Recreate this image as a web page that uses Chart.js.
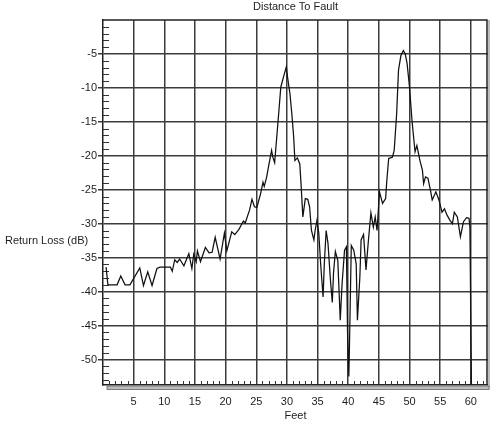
<!DOCTYPE html>
<html><head><meta charset="utf-8">
<script src="https://cdn.jsdelivr.net/npm/chart.js@4/dist/chart.umd.min.js"></script>
<style>html,body{margin:0;padding:0;background:#fff}#wrap{width:490px;height:423px}</style>
</head><body><div id="wrap"><canvas id="c" width="490" height="423"></canvas></div>
<script>
const chartTitle = 'Distance To Fault';
const xTitle = 'Feet';
const yTitle = 'Return Loss (dB)';
const xTickValues = [5,10,15,20,25,30,35,40,45,50,55,60];
const yTickValues = [-50,-45,-40,-35,-30,-25,-20,-15,-10,-5];
const feet = [0.5,0.8,2.3,2.9,3.6,4.4,6.0,6.6,7.3,8.0,8.8,9.3,11.0,11.3,11.7,12.1,12.5,13.2,14.0,14.5,14.8,15.2,15.4,15.9,16.7,17.3,17.8,18.3,19.1,19.8,20.2,21.0,21.5,22.2,22.9,23.2,23.9,24.3,24.7,25.1,25.7,26.1,26.3,26.7,27.0,27.5,27.7,28.0,28.3,28.7,29.0,29.5,29.9,30.1,30.5,30.8,31.1,31.3,31.7,32.1,32.3,32.6,33.0,33.4,33.7,34.0,34.4,34.6,34.9,35.2,35.5,35.9,36.1,36.4,36.7,37.1,37.4,37.6,37.9,38.3,38.7,39.0,39.4,39.7,39.9,40.1,40.2,40.5,40.9,41.3,41.5,41.9,42.1,42.5,42.9,43.3,43.7,44.1,44.4,44.7,45.1,45.6,46.1,46.3,46.6,47.2,47.5,47.9,48.2,48.6,49.0,49.3,49.6,50.0,50.4,50.9,51.2,51.7,52.1,52.3,52.6,53.0,53.4,53.7,54.3,54.8,55.3,55.7,56.1,56.6,57.0,57.3,57.8,58.3,58.8,59.3,59.7,59.85,60.1];
const returnLoss = [-36.4,-39.0,-39.0,-37.7,-39.0,-39.0,-36.5,-39.1,-37.1,-39.1,-36.6,-36.4,-36.4,-37.0,-35.3,-35.7,-35.2,-36.2,-34.4,-36.6,-34.5,-35.6,-34.0,-35.6,-33.5,-34.3,-34.2,-32.0,-35.2,-31.4,-34.0,-31.2,-31.6,-30.8,-29.6,-29.9,-28.0,-26.4,-27.5,-27.6,-25.6,-23.9,-24.5,-23.1,-21.6,-19.2,-20.2,-21.0,-17.7,-13.3,-9.9,-8.2,-6.9,-8.4,-10.9,-13.8,-17.2,-20.7,-20.3,-21.2,-24.1,-29.0,-26.3,-26.4,-27.5,-31.0,-32.4,-31.0,-29.5,-31.4,-35.9,-40.8,-35.9,-31.0,-32.9,-38.3,-41.6,-37.3,-34.1,-35.4,-44.2,-38.8,-33.9,-33.4,-46.6,-52.5,-48.1,-33.2,-33.9,-35.9,-44.2,-37.8,-32.4,-31.6,-36.8,-32.4,-28.4,-30.5,-29.0,-31.0,-25.3,-27.0,-26.3,-23.6,-20.4,-20.2,-19.2,-13.8,-7.4,-5.2,-4.5,-5.0,-6.4,-9.9,-14.8,-19.4,-18.5,-20.7,-22.1,-24.1,-23.1,-23.3,-25.0,-26.5,-25.3,-26.5,-28.3,-27.8,-28.7,-29.5,-30.0,-28.3,-29.0,-31.9,-29.7,-29.1,-29.2,-30.5,-53.8];

Chart.defaults.font.family = "'Liberation Sans', Arial, sans-serif";
Chart.defaults.font.size = 11;
Chart.defaults.color = '#1e1e1e';

const GRID = '#3c3c3c';
const decor = {
  id: 'decor',
  beforeDatasetsDraw(chart) {
    const ctx = chart.ctx, a = chart.chartArea;
    const xs = chart.scales.x, ys = chart.scales.y;
    ctx.save();
    ctx.strokeStyle = '#333';
    ctx.lineWidth = 1;
    ctx.beginPath();
    for (let v = -1; v >= ys.min; v--) {
      if (v % 5 === 0) continue;
      const y = Math.round(ys.getPixelForValue(v)) + 0.5;
      ctx.moveTo(a.left, y); ctx.lineTo(a.left + 6, y);
    }
    for (let v = 1; v <= xs.max; v++) {
      if (v % 5 === 0) continue;
      const x = Math.round(xs.getPixelForValue(v)) + 0.5;
      ctx.moveTo(x, a.bottom); ctx.lineTo(x, a.bottom - 4);
    }
    ctx.stroke();
    ctx.strokeStyle = '#222';
    ctx.lineWidth = 1.5;
    ctx.beginPath();
    ctx.moveTo(a.left, a.top); ctx.lineTo(a.right - 1, a.top); ctx.lineTo(a.right - 1, a.bottom);
    ctx.stroke();
    ctx.restore();
  },
  afterDraw(chart) {
    const ctx = chart.ctx, a = chart.chartArea;
    ctx.save();
    ctx.fillStyle = '#bdbdbd';
    ctx.fillRect(a.left + 4, a.bottom + 1, a.right - a.left - 3, 3.5);
    ctx.fillRect(a.right, a.top, 2, a.bottom - a.top + 4);
    ctx.strokeStyle = '#666';
    ctx.lineWidth = 0.8;
    ctx.strokeRect(a.left + 4, a.bottom + 1, a.right - a.left - 3, 3.5);
    ctx.font = "11px 'Liberation Sans', Arial, sans-serif";
    ctx.fillStyle = '#1e1e1e';
    ctx.textBaseline = 'middle';
    ctx.textAlign = 'left';
    ctx.fillText(yTitle, 5, 241);
    ctx.restore();
  }
};

new Chart(document.getElementById('c'), {
  type: 'line',
  data: {
    datasets: [{
      data: feet.map((f, i) => ({ x: f, y: returnLoss[i] })),
      borderColor: '#111',
      borderWidth: 1.25,
      pointRadius: 0,
      tension: 0,
      fill: false
    }]
  },
  options: {
    responsive: false,
    animation: false,
    devicePixelRatio: 1,
    layout: { padding: { left: 0, right: 2, top: 0, bottom: 0 } },
    plugins: {
      legend: { display: false },
      tooltip: { enabled: false },
      title: {
        display: true,
        fullSize: false,
        text: chartTitle,
        font: { size: 11, weight: 'normal' },
        color: '#1e1e1e',
        padding: { top: 0, bottom: 6.8 }
      }
    },
    scales: {
      x: {
        type: 'linear',
        min: 0,
        max: 62.8,
        afterBuildTicks: s => { s.ticks = xTickValues.map(v => ({ value: v })); },
        afterFit: s => { s.height = 38; },
        ticks: { padding: 0, font: { size: 11 }, color: '#1e1e1e', maxRotation: 0, autoSkip: false },
        grid: { color: GRID, lineWidth: 1.5, drawTicks: true, tickLength: 10, tickColor: 'rgba(0,0,0,0)' },
        border: { display: true, color: '#222', width: 1.5 },
        title: { display: true, text: xTitle, font: { size: 11 }, color: '#1e1e1e', padding: { top: 0, bottom: 0.5 } }
      },
      y: {
        type: 'linear',
        min: -53.75,
        max: 0,
        afterBuildTicks: s => { s.ticks = yTickValues.map(v => ({ value: v })); },
        afterFit: s => { s.width = 103; },
        ticks: { padding: 1, font: { size: 11 }, color: '#1e1e1e', autoSkip: false },
        grid: { color: GRID, lineWidth: 1.5, drawTicks: true, tickLength: 5, tickColor: GRID },
        border: { display: true, color: '#222', width: 1.5 }
      }
    }
  },
  plugins: [decor]
});
</script>
</body></html>
